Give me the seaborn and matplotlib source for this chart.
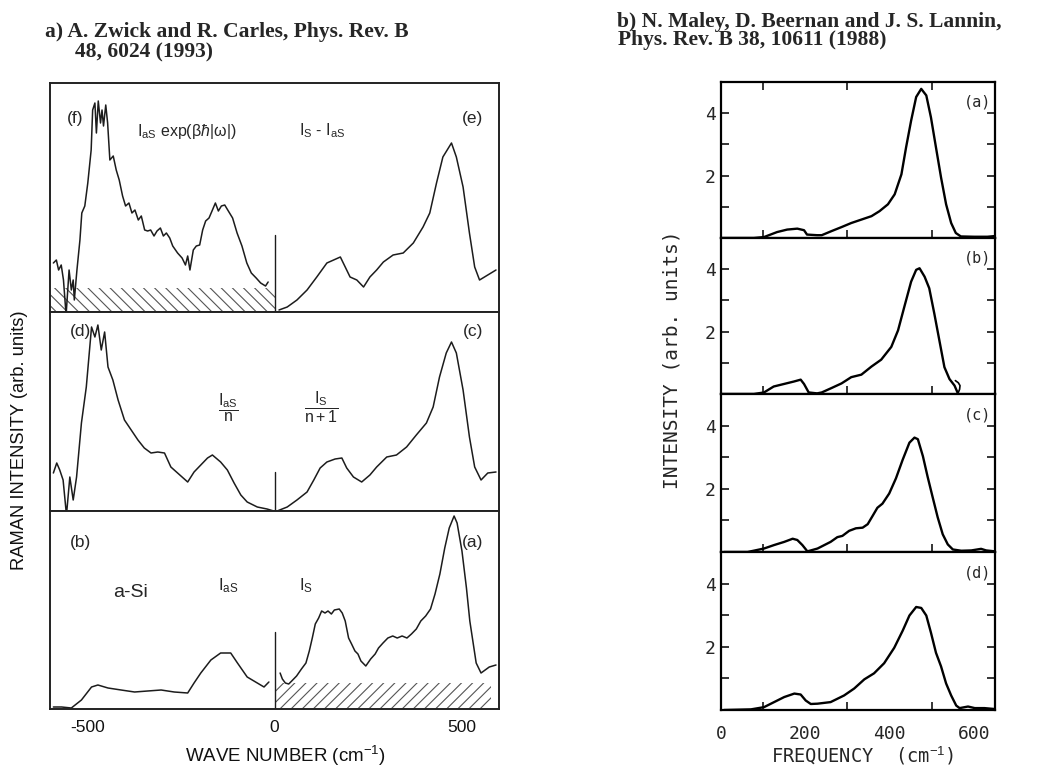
import numpy as np
import pandas as pd
import matplotlib
matplotlib.use("Agg")
import matplotlib.pyplot as plt
from matplotlib.ticker import FixedLocator
import seaborn as sns

# ---------------- data: left figure (Zwick & Carles) ----------------
# panel (f): anti-Stokes * exp(beta hbar |w|)
f_w = [-591, -583, -577, -570, -564, -557, -549, -543, -538, -535, -528, -520, -515,
       -507, -499, -490, -486, -480, -476, -471, -465, -461, -457, -451, -446, -440,
       -431, -423, -415, -406, -398, -389, -381, -373, -364, -356, -347, -339, -331,
       -322, -314, -305, -297, -289, -280, -272, -259, -247, -238, -232, -226, -217,
       -209, -200, -192, -184, -175, -167, -158, -150, -142, -133, -125, -112, -100,
       -87, -74, -62, -49, -37, -24, -17]
f_i = [49, 52, 42, 47, 32, -3, 42, 22, 32, 12, 42, 72, 99, 106, 129, 162, 202, 209,
       179, 211, 189, 202, 186, 207, 189, 152, 156, 142, 132, 116, 106, 109, 99, 102,
       92, 96, 82, 81, 82, 76, 81, 84, 76, 79, 74, 66, 59, 54, 47, 56, 42, 62, 66, 67,
       82, 91, 94, 101, 109, 101, 106, 107, 102, 94, 79, 66, 49, 39, 34, 29, 26, 30]
# panel (e): Is - Ias
e_w = [12, 34, 60, 87, 113, 140, 158, 176, 189, 202, 220, 238, 255, 273, 291, 317, 344,
       371, 397, 415, 433, 450, 473, 486, 504, 521, 535, 548, 570, 592]
e_i = [2, 5, 12, 22, 35, 49, 52, 55, 45, 35, 32, 25, 35, 42, 50, 57, 59, 69, 85, 99, 129,
       155, 169, 155, 125, 79, 45, 32, 37, 42]
# panel (d): Ias / n
d_w = [-591, -582, -574, -565, -556, -547, -538, -529, -516, -503, -489, -480, -472,
       -463, -454, -445, -432, -418, -401, -383, -365, -348, -330, -312, -294, -277,
       -259, -232, -215, -197, -179, -166, -144, -126, -108, -90, -73, -46, -20, -2]
d_i = [38, 48, 41, 31, -4, 34, 11, 34, 88, 124, 184, 174, 186, 161, 179, 144, 131, 111,
       91, 81, 71, 63, 58, 59, 58, 44, 38, 29, 39, 46, 53, 56, 49, 41, 28, 16, 9, 4, 2, 0]
# panel (c): Is / (n+1)
c_w = [7, 34, 60, 87, 105, 122, 140, 162, 180, 193, 211, 233, 255, 273, 300, 326, 353,
       379, 406, 424, 441, 459, 473, 486, 504, 521, 535, 552, 570, 592]
c_i = [0, 4, 11, 19, 31, 43, 49, 52, 53, 43, 34, 29, 36, 44, 54, 56, 64, 76, 88, 104,
       134, 158, 169, 158, 121, 74, 44, 31, 38, 39]
# panel (b): Ias
b_w = [-591, -569, -543, -516, -489, -472, -445, -410, -374, -339, -303, -268, -232,
       -215, -197, -170, -144, -117, -99, -73, -46, -28, -15]
b_i = [2, 2, 1, 9, 22, 24, 21, 19, 17, 18, 19, 17, 16, 26, 36, 49, 56, 56, 46, 32, 26,
       22, 27]
# panel (a): Is
a_w = [15, 21, 29, 38, 46, 59, 72, 84, 93, 101, 109, 118, 126, 135, 143, 152, 160, 173,
       181, 189, 198, 206, 215, 223, 231, 244, 257, 269, 278, 290, 303, 316, 328, 341,
       354, 366, 379, 391, 404, 417, 429, 442, 455, 467, 480, 488, 501, 513, 522, 539,
       552, 574, 592]
a_i = [36, 30, 26, 25, 28, 33, 40, 46, 58, 71, 85, 91, 98, 96, 98, 95, 99, 100, 96, 88,
       71, 65, 58, 55, 48, 43, 50, 55, 61, 66, 71, 73, 71, 73, 71, 75, 80, 88, 93, 100,
       115, 135, 161, 181, 193, 186, 158, 121, 88, 46, 36, 42, 44]
zero_line_heights = [77, 39, 77]          # short vertical line at w = 0 in each panel
hatch_top = dict(x0=-600, x1=0, h=24)     # shaded background area, panel (f)
hatch_bot = dict(x0=0, x1=579, h=26)      # shaded background area, panel (a)
left_panel_ymax = [229, 199, 198]
left_xticks = [-500, 0, 500]
left_xtick_labels = ["-500", "0", "500"]

# ---------------- data: right figure (Maley et al.) ----------------
ra_f = [0, 78, 102, 133, 157, 181, 197, 204, 228, 239, 262, 286, 309, 333, 357, 376,
        396, 412, 428, 439, 451, 463, 475, 487, 498, 510, 522, 534, 546, 557, 569, 601,
        632, 648]
ra_i = [0, 0, 0.03, 0.19, 0.27, 0.30, 0.25, 0.11, 0.09, 0.09, 0.22, 0.35, 0.48, 0.59,
        0.70, 0.86, 1.08, 1.40, 2.04, 2.90, 3.76, 4.52, 4.78, 4.57, 3.87, 2.90, 1.94,
        1.08, 0.48, 0.16, 0.05, 0.04, 0.04, 0.06]
rb_f = [0, 78, 102, 125, 149, 173, 189, 197, 208, 228, 239, 262, 286, 309, 333, 357,
        380, 404, 420, 435, 451, 463, 471, 483, 494, 506, 518, 530, 542, 554, 561]
rb_i = [0, 0, 0.05, 0.24, 0.32, 0.40, 0.46, 0.32, 0.05, 0.02, 0.05, 0.19, 0.34, 0.54,
        0.62, 0.88, 1.10, 1.51, 2.04, 2.80, 3.60, 3.98, 4.03, 3.76, 3.39, 2.58, 1.72,
        0.86, 0.48, 0.27, 0.05]
rb_arc_f = [556, 563, 567, 566, 563]      # small bracket-like stroke at the end of (b)
rb_arc_i = [0.43, 0.36, 0.27, 0.15, 0.05]
rc_f = [7, 63, 102, 126, 150, 170, 181, 193, 205, 221, 229, 260, 276, 288, 304, 320,
        336, 348, 360, 371, 383, 399, 415, 431, 447, 459, 467, 479, 490, 502, 514, 526,
        538, 550, 570, 594, 617, 629, 650]
rc_i = [0, 0, 0.11, 0.22, 0.32, 0.42, 0.38, 0.22, 0.02, 0.08, 0.11, 0.32, 0.47, 0.51,
        0.67, 0.75, 0.77, 0.88, 1.15, 1.40, 1.53, 1.85, 2.33, 2.92, 3.46, 3.62, 3.57,
        3.03, 2.39, 1.74, 1.10, 0.56, 0.24, 0.08, 0.04, 0.05, 0.10, 0.05, 0.02]
rd_f = [7, 71, 102, 126, 150, 174, 189, 201, 213, 229, 260, 292, 316, 340, 363, 387,
        411, 431, 447, 463, 475, 487, 498, 510, 522, 534, 546, 558, 566, 586, 602, 625,
        650]
rd_i = [0, 0.02, 0.09, 0.25, 0.41, 0.52, 0.49, 0.30, 0.19, 0.20, 0.25, 0.46, 0.68, 0.97,
        1.16, 1.48, 1.97, 2.51, 2.99, 3.26, 3.23, 2.99, 2.45, 1.81, 1.38, 0.84, 0.46,
        0.14, 0.06, 0.11, 0.06, 0.06, 0.03]
right_labels = ["(a)", "(b)", "(c)", "(d)"]
right_xticks = [0, 200, 400, 600]
right_minor_xticks = [100, 200, 300, 400, 500, 600]
right_yticks = [2, 4]
right_minor_yticks = [1, 3]

# ---------------- style ----------------
sns.set_style("white")
plt.rcParams['font.family'] = ['Liberation Sans', 'DejaVu Sans']
plt.rcParams['mathtext.fontset'] = 'custom'
plt.rcParams['mathtext.rm'] = 'Liberation Sans'
plt.rcParams['mathtext.it'] = 'Liberation Sans:italic'
plt.rcParams['mathtext.fallback'] = 'stixsans'
plt.rcParams['hatch.linewidth'] = 0.8

W, H = 1045, 767
fig = plt.figure(figsize=(W / 100, H / 100), dpi=100)


def box(x0, y0, x1, y1):
    return [x0 / W, 1 - y1 / H, (x1 - x0) / W, (y1 - y0) / H]


# ---------- left figure ----------
ink = "#1c1c1c"
left_bounds = [(83, 312), (312, 511), (511, 709)]
axL = [fig.add_axes(box(50, t, 499, b)) for t, b in left_bounds]
left_series = [((f_w, f_i), (e_w, e_i)), ((d_w, d_i), (c_w, c_i)), ((b_w, b_i), (a_w, a_i))]
for k, ax in enumerate(axL):
    for (xw, yi) in left_series[k]:
        df = pd.DataFrame({"w": xw, "I": yi})
        sns.lineplot(data=df, x="w", y="I", ax=ax, color=ink, lw=1.1,
                     estimator=None, sort=False)
    ax.plot([0, 0], [0, zero_line_heights[k]], color=ink, lw=1.0)
    ax.set_xlim(-600, 600)
    ax.set_ylim(0, left_panel_ymax[k])
    ax.set_xlabel("")
    ax.set_ylabel("")
    ax.set_yticks([])
    for s in ax.spines.values():
        s.set_linewidth(1.4)
        s.set_color("#222222")
    if k < 2:
        ax.set_xticks([])
    else:
        ax.set_xticks(left_xticks)
        ax.set_xticklabels(left_xtick_labels, fontsize=12.5)
        ax.xaxis.set_minor_locator(FixedLocator([-250, 250]))
        ax.tick_params(axis="x", which="both", direction="in", length=3, width=0.8,
                       pad=8, colors="#222222")
        ax.tick_params(axis="x", labelcolor="#111111")

axL[0].fill_between([hatch_top["x0"], hatch_top["x1"]], 0, hatch_top["h"],
                    facecolor="none", edgecolor="#555555", hatch="\\\\\\", lw=0)
axL[2].fill_between([hatch_bot["x0"], hatch_bot["x1"]], 0, hatch_bot["h"],
                    facecolor="none", edgecolor="#555555", hatch="///", lw=0)

fs = 12.5
axL[0].text(0.038, 0.845, "(f)", transform=axL[0].transAxes, fontsize=fs, va="center")
axL[0].text(0.965, 0.845, "(e)", transform=axL[0].transAxes, fontsize=fs, va="center", ha="right")
axL[0].text(0.193, 0.79, r"I$_{\mathrm{aS}}$ exp($\mathrm{\beta}\hbar$|ω|)",
            transform=axL[0].transAxes, fontsize=11.5, va="center")
axL[0].text(0.555, 0.79, r"I$_{\mathrm{S}}$ - I$_{\mathrm{aS}}$", transform=axL[0].transAxes,
            fontsize=11.5, va="center")
axL[1].text(0.045, 0.90, "(d)", transform=axL[1].transAxes, fontsize=fs, va="center")
axL[1].text(0.965, 0.90, "(c)", transform=axL[1].transAxes, fontsize=fs, va="center", ha="right")
axL[1].text(0.397, 0.52, r"$\dfrac{\mathrm{I_{aS}}}{\mathrm{n}}$", transform=axL[1].transAxes,
            fontsize=11.5, va="center", ha="center")
axL[1].text(0.605, 0.52, r"$\dfrac{\mathrm{I_{S}}}{\mathrm{n+1}}$", transform=axL[1].transAxes,
            fontsize=11.5, va="center", ha="center")
axL[2].text(0.045, 0.84, "(b)", transform=axL[2].transAxes, fontsize=fs, va="center")
axL[2].text(0.965, 0.84, "(a)", transform=axL[2].transAxes, fontsize=fs, va="center", ha="right")
axL[2].text(0.18, 0.59, "a-Si", transform=axL[2].transAxes, fontsize=14, va="center", ha="center")
axL[2].text(0.397, 0.625, r"I$_{\mathrm{aS}}$", transform=axL[2].transAxes, fontsize=12,
            va="center", ha="center")
axL[2].text(0.57, 0.625, r"I$_{\mathrm{S}}$", transform=axL[2].transAxes, fontsize=12,
            va="center", ha="center")

fig.text(285 / W, 1 - 756 / H, r"WAVE NUMBER (cm$^{\mathrm{-1}}$)", fontsize=13.5,
         ha="center", va="center", color="#111111")
fig.text(20 / W, 1 - 440 / H, "RAMAN INTENSITY (arb. units)", fontsize=13.2,
         rotation=90, ha="center", va="center", color="#111111")

# ---------- right figure ----------
mono = ['DejaVu Sans Mono', 'DejaVu Sans']
right_bounds = [(82, 238), (238, 394), (394, 552), (552, 710)]
axR = [fig.add_axes(box(721, t, 995, b)) for t, b in right_bounds]
right_series = [(ra_f, ra_i), (rb_f, rb_i), (rc_f, rc_i), (rd_f, rd_i)]
for k, ax in enumerate(axR):
    fx, iy = right_series[k]
    df = pd.DataFrame({"f": fx, "I": iy})
    sns.lineplot(data=df, x="f", y="I", ax=ax, color="black", lw=1.7,
                 estimator=None, sort=False)
    ax.set_xlim(0, 650)
    ax.set_ylim(0, 5)
    ax.set_xlabel("")
    ax.set_ylabel("")
    for s in ax.spines.values():
        s.set_linewidth(1.6)
        s.set_color("black")
    ax.set_yticks(right_yticks)
    ax.set_yticklabels([str(v) for v in right_yticks], fontsize=13, family=mono)
    ax.yaxis.set_minor_locator(FixedLocator(right_minor_yticks))
    ax.tick_params(axis="y", which="both", direction="in", length=6, width=1.3,
                   left=True, right=True, pad=4)
    ax.xaxis.set_minor_locator(FixedLocator(right_minor_xticks))
    ax.tick_params(axis="x", which="minor", direction="in", length=6, width=1.3,
                   bottom=True, top=(k == 0))
    ax.set_xticks(right_xticks)
    ax.tick_params(axis="x", which="major", direction="in", length=0, pad=11)
    if k < 3:
        ax.set_xticklabels([])
    else:
        ax.set_xticklabels([str(v) for v in right_xticks], fontsize=13, family=mono)
    ax.text(0.935, 0.87, right_labels[k], transform=ax.transAxes, fontsize=11,
            family=mono, ha="center", va="center")

arc = pd.DataFrame({"f": rb_arc_f, "I": rb_arc_i})
sns.lineplot(data=arc, x="f", y="I", ax=axR[1], color="black", lw=1.2,
             estimator=None, sort=False)
axR[1].set_xlabel("")
axR[1].set_ylabel("")

fig.text(863 / W, 1 - 756 / H, r"FREQUENCY  (cm$^{-1}$)", fontsize=13.5, family=mono,
         ha="center", va="center")
fig.text(672 / W, 1 - 360 / H, "INTENSITY (arb. units)", fontsize=14, family=mono,
         rotation=90, ha="center", va="center")

# ---------- titles ----------
serif = ['Liberation Serif', 'DejaVu Serif']
tfs = 15.5
fig.text(45 / W, 1 - 37 / H, "a) A. Zwick and R. Carles, Phys. Rev. B", fontsize=tfs,
         family=serif, weight="bold", va="baseline")
fig.text(75 / W, 1 - 57 / H, "48, 6024 (1993)", fontsize=tfs,
         family=serif, weight="bold", va="baseline")
fig.text(617 / W, 1 - 27 / H, "b) N. Maley, D. Beernan and J. S. Lannin,", fontsize=tfs,
         family=serif, weight="bold", va="baseline")
fig.text(618 / W, 1 - 45 / H, "Phys. Rev. B 38, 10611 (1988)", fontsize=tfs,
         family=serif, weight="bold", va="baseline")

fig.savefig("out.png", dpi=100)
